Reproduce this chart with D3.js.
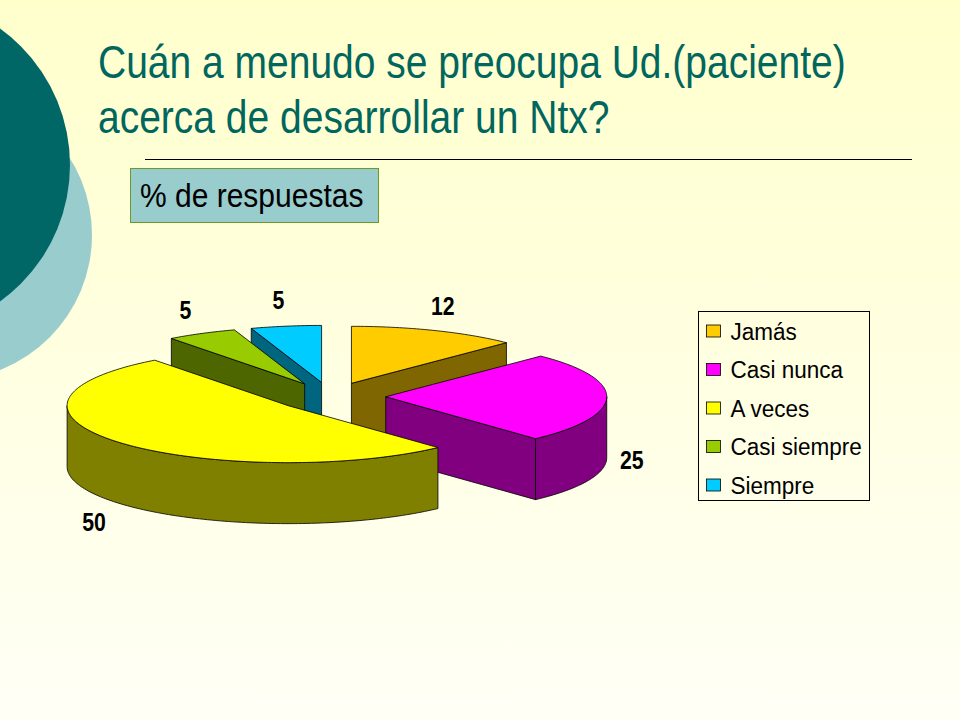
<!DOCTYPE html>
<html>
<head>
<meta charset="utf-8">
<script src="https://cdn.jsdelivr.net/npm/d3@7"></script>
<style>
  body { margin: 0; }
  svg { display: block; }
</style>
</head>
<body>
<div id="chart"></div>
<script>
// data
var categories = ["Jamás", "Casi nunca", "A veces", "Casi siempre", "Siempre"];
var values = [12, 25, 50, 5, 5];
var valueLabels = ["12", "25", "50", "5", "5"];
var topColors = ["#FFCC00", "#FF00FF", "#FFFF00", "#99CC00", "#00CCFF"];
var sideColors = ["#806600", "#800080", "#808000", "#4D6600", "#006680"];
var titleLines = ["Cuán a menudo se preocupa Ud.(paciente)", "acerca de desarrollar un Ntx?"];
var subtitle = "% de respuestas";

var W = 960, H = 720;
var font = "'Liberation Sans', Arial, sans-serif";

var svg = d3.select("#chart").append("svg")
    .attr("width", W)
    .attr("height", H);

// background
var defs = svg.append("defs");
var grad = defs.append("linearGradient")
    .attr("id", "bg")
    .attr("x1", 0).attr("y1", 0).attr("x2", 0).attr("y2", 1);
grad.append("stop").attr("offset", "0%").attr("stop-color", "#FFFFCC");
grad.append("stop").attr("offset", "100%").attr("stop-color", "#FFFFF6");

svg.append("rect")
    .attr("width", W).attr("height", H)
    .attr("fill", "url(#bg)");

// decoration circles on the left
svg.append("circle")
    .attr("cx", -53).attr("cy", 235).attr("r", 145)
    .attr("fill", "#99CCCC");
svg.append("circle")
    .attr("cx", -98).attr("cy", 165).attr("r", 168)
    .attr("fill", "#006666");

// title (text in the slide is a bit stretched vertically)
svg.selectAll("text.title")
    .data(titleLines)
    .enter().append("text")
    .attr("class", "title")
    .attr("transform", function(d, i) { return "translate(98," + (78 + i * 55) + ") scale(1,1.18)"; })
    .attr("font-family", font)
    .attr("font-size", 39)
    .attr("fill", "#00665E")
    .text(function(d) { return d; });

svg.append("line")
    .attr("x1", 145).attr("x2", 912)
    .attr("y1", 159.5).attr("y2", 159.5)
    .attr("stroke", "#000")
    .attr("stroke-width", 1);

// subtitle box
svg.append("rect")
    .attr("x", 130.5).attr("y", 168.5)
    .attr("width", 248).attr("height", 54)
    .attr("fill", "#99CCCC")
    .attr("stroke", "#6A9A2A")
    .attr("stroke-width", 1);
svg.append("text")
    .attr("transform", "translate(140,207) scale(1,1.08)")
    .attr("font-family", font)
    .attr("font-size", 30)
    .attr("fill", "#000")
    .text(subtitle);

// 3d pie
var cx = 330.5, cy = 396.5, rx = 221, ry = 57, depth = 61, explode = 0.25;
var xs = d3.scaleLinear().domain([-1, 1]).range([cx - rx, cx + rx]);
var ys = d3.scaleLinear().domain([-1, 1]).range([cy - ry, cy + ry]);

var pie = d3.pie().sort(null).value(function(d) { return d.v; });
var arcs = pie(values.map(function(v, i) { return {v: v, i: i}; }));

arcs.forEach(function(a) {
    a.mid = (a.startAngle + a.endAngle) / 2;
    a.ox = explode * Math.sin(a.mid);
    a.oy = -explode * Math.cos(a.mid);
});

function pt(a, r, d, z) {
    return [xs(d.ox + r * Math.sin(a)), ys(d.oy - r * Math.cos(a)) + z];
}
function rim(a0, a1, d, z) {
    var n = Math.max(2, Math.ceil(Math.abs(a1 - a0) / 0.02));
    return d3.range(n + 1).map(function(k) { return pt(a0 + (a1 - a0) * k / n, 1, d, z); });
}
var line = d3.line();

// back slices first
var order = arcs.slice().sort(function(a, b) { return pt(0, 0, a, 0)[1] - pt(0, 0, b, 0)[1]; });

var pieG = svg.append("g")
    .attr("stroke", "#000")
    .attr("stroke-width", 0.8)
    .attr("stroke-linejoin", "round");

order.forEach(function(d) {
    var g = pieG.append("g");
    var side = sideColors[d.data.i];
    var a0 = d.startAngle, a1 = d.endAngle;
    var c0 = pt(0, 0, d, 0), c1 = pt(0, 0, d, depth);

    // radial face at start angle
    if (Math.cos(a0 - Math.PI / 2) < -0.01) {
        g.append("path").attr("fill", side)
            .attr("d", line([c0, pt(a0, 1, d, 0), pt(a0, 1, d, depth), c1]) + "Z");
    }
    // radial face at end angle
    if (Math.cos(a1 + Math.PI / 2) < -0.01) {
        g.append("path").attr("fill", side)
            .attr("d", line([c0, pt(a1, 1, d, 0), pt(a1, 1, d, depth), c1]) + "Z");
    }
    // outer curved face (front half only)
    var lo = Math.max(a0, Math.PI / 2), hi = Math.min(a1, 3 * Math.PI / 2);
    if (lo < hi) {
        var pts = rim(lo, hi, d, 0).concat(rim(hi, lo, d, depth));
        g.append("path").attr("fill", side).attr("d", line(pts) + "Z");
    }
    // top face
    g.append("path")
        .attr("fill", topColors[d.data.i])
        .attr("d", line([c0].concat(rim(a0, a1, d, 0))) + "Z");
});

// value labels
svg.selectAll("text.val")
    .data(arcs)
    .enter().append("text")
    .attr("class", "val")
    .attr("transform", function(d) {
        var front = Math.cos(d.mid) < 0;
        var p = pt(d.mid, 1, d, front ? depth : 0);
        var x = p[0] + 28 * Math.sin(d.mid) - 3;
        var y = p[1] - 28 * Math.cos(d.mid) + 1;
        return "translate(" + x + "," + y + ") scale(0.85,1)";
    })
    .attr("text-anchor", "middle")
    .attr("dy", "0.36em")
    .attr("font-family", font)
    .attr("font-weight", "bold")
    .attr("font-size", 25)
    .attr("fill", "#000")
    .text(function(d) { return valueLabels[d.data.i]; });

// legend
var legend = svg.append("g").attr("transform", "translate(698.5,311.5)");
legend.append("rect")
    .attr("width", 171).attr("height", 189)
    .attr("fill", "none")
    .attr("stroke", "#000")
    .attr("stroke-width", 1);

var item = legend.selectAll("g.item")
    .data(categories)
    .enter().append("g")
    .attr("class", "item")
    .attr("transform", function(d, i) { return "translate(0," + (19.5 + i * 38.5) + ")"; });
item.append("rect")
    .attr("x", 8).attr("y", -6)
    .attr("width", 14).attr("height", 12)
    .attr("fill", function(d, i) { return topColors[i]; })
    .attr("stroke", "#000")
    .attr("stroke-width", 0.8);
item.append("text")
    .attr("transform", "translate(32,0) scale(1,1.1)")
    .attr("dy", "0.36em")
    .attr("font-family", font)
    .attr("font-size", 22.5)
    .attr("fill", "#000")
    .text(function(d) { return d; });
</script>
</body>
</html>
